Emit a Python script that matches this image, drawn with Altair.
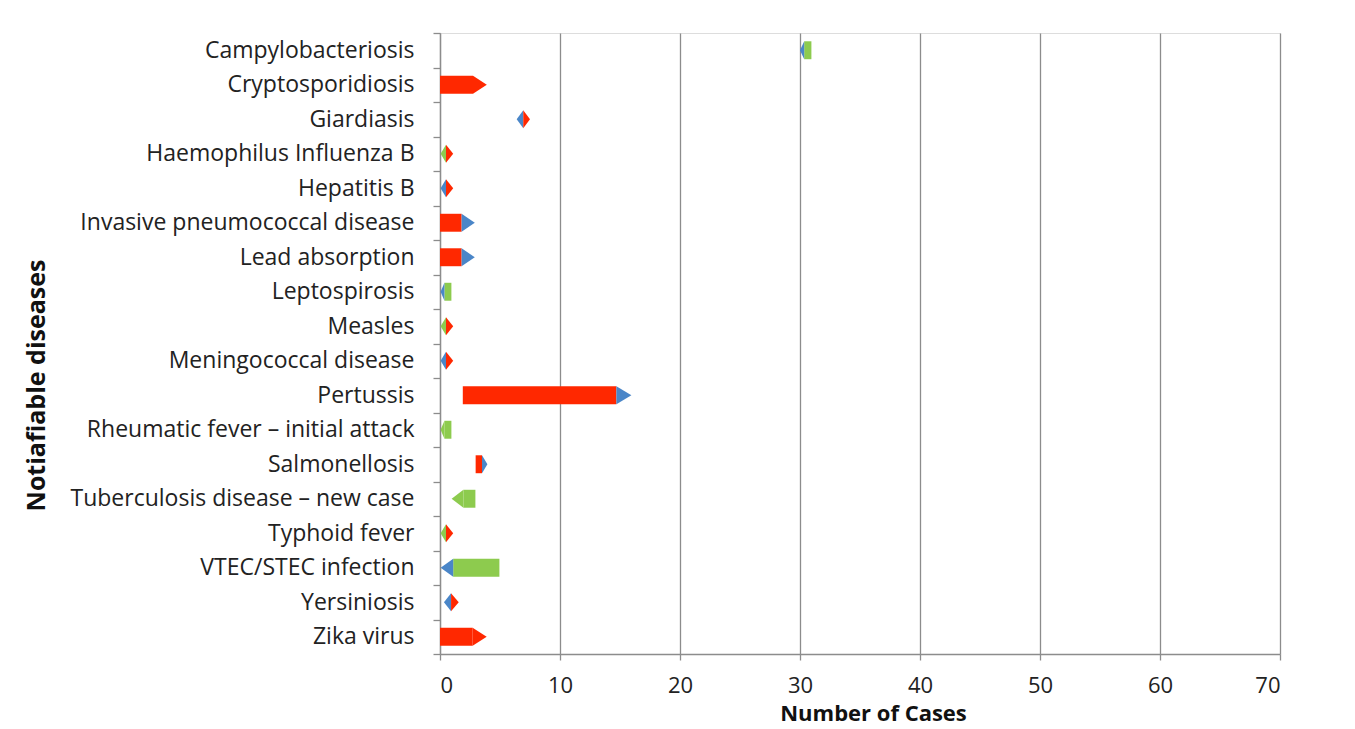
import json
import altair as alt
import pandas as pd

diseases = [
    "Campylobacteriosis", "Cryptosporidiosis", "Giardiasis", "Haemophilus Influenza B",
    "Hepatitis B", "Invasive pneumococcal disease", "Lead absorption", "Leptospirosis",
    "Measles", "Meningococcal disease", "Pertussis", "Rheumatic fever \u2013 initial attack",
    "Salmonellosis", "Tuberculosis disease \u2013 new case", "Typhoid fever",
    "VTEC/STEC infection", "Yersiniosis", "Zika virus",
]

# shaft of each arrow (number of cases)
bar_start = [30.35, 0.0, None, None, None, 0.0, 0.0, 0.37, None, None, 1.9, 0.37, 2.97, 1.95, None, 1.1, None, 0.0]
bar_end = [30.95, 2.75, None, None, None, 1.8, 1.8, 0.95, None, None, 14.7, 0.95, 3.5, 2.95, None, 4.95, None, 2.72]
bar_kind = ["decrease", "increase", None, None, None, "increase", "increase", "decrease", None, None,
            "increase", "decrease", "increase", "decrease", None, "decrease", None, "increase"]

# left-pointing heads
left_base = [30.35, None, 6.94, 0.5, 0.5, None, None, 0.37, 0.5, 0.5, None, 0.37, None, 1.95, 0.5, 1.1, 0.92, None]
left_tip = [30.0, None, 6.39, 0.05, 0.05, None, None, 0.05, 0.05, 0.05, None, 0.05, None, 0.97, 0.05, 0.05, 0.33, None]
left_kind = ["reference", None, "reference", "decrease", "reference", None, None, "reference", "decrease", "reference",
             None, "decrease", None, "decrease", "decrease", "reference", "reference", None]

# right-pointing heads
right_base = [None, 2.75, 6.94, 0.5, 0.5, 1.8, 1.8, None, 0.5, 0.5, 14.7, None, 3.5, None, 0.5, None, 0.92, 2.72]
right_tip = [None, 3.9, 7.5, 1.1, 1.1, 2.9, 2.9, None, 1.1, 1.1, 15.95, None, 3.95, None, 1.1, None, 1.56, 3.89]
right_kind = [None, "increase", "increase", "increase", "increase", "reference", "reference", None, "increase", "increase",
              "reference", None, "reference", None, "increase", None, "increase", "increase"]

x_ticks = [0, 10, 20, 30, 40, 50, 60, 70]

HALF = 0.26  # half thickness of an arrow, in rows

bars = []
for i, (s, e, k) in enumerate(zip(bar_start, bar_end, bar_kind)):
    if s is not None:
        bars.append({"x": s, "x2": e, "y": i - HALF, "y2": i + HALF, "kind": k})
bars_df = pd.DataFrame(bars)

# each head is a two-point vertical area: full thickness at its base, zero at its tip
heads = []
hid = 0
for bases, tips, kinds in ((left_base, left_tip, left_kind), (right_base, right_tip, right_kind)):
    for i, (b, t, k) in enumerate(zip(bases, tips, kinds)):
        if b is None:
            continue
        heads.append({"id": hid, "x": b, "y": i - HALF, "y2": i + HALF, "kind": k})
        heads.append({"id": hid, "x": t, "y": i, "y2": i, "kind": k})
        hid += 1
heads_df = pd.DataFrame(heads)

FONT = "Open Sans"
GRAY = "#8c8c8c"

color = alt.Color(
    "kind:N",
    scale=alt.Scale(domain=["increase", "decrease", "reference"],
                    range=["#FF2800", "#8DCB4E", "#4A86C8"]),
    legend=None,
)

n = len(diseases)
y_values = [i * 0.5 - 0.5 for i in range(2 * n + 1)]
label_expr = "datum.value % 1 == 0 ? " + json.dumps(diseases, ensure_ascii=False) + "[datum.value] : ''"

y_scale = alt.Scale(domain=[-0.5, n - 0.5], reverse=True, nice=False, zero=False)
x_scale = alt.Scale(domain=[0, 70], nice=False)

x_axis = alt.Axis(
    title="Number of Cases", values=x_ticks, grid=True, gridColor=GRAY, gridWidth=1.3,
    domainColor=GRAY, domainWidth=1.3, tickColor=GRAY, tickSize=6, tickWidth=1.3,
    labelFont=FONT, labelFontSize=22, labelColor="#222", labelPadding=15,
    titleFont=FONT, titleFontSize=22, titleFontWeight="bold", titleColor="#111",
    titleX=433, titleY=59, titleBaseline="middle",
)
y_axis = alt.Axis(
    title="Notiafiable diseases", values=y_values, tickCount=len(y_values), labelExpr=label_expr, grid=False,
    domainColor=GRAY, domainWidth=1.3, tickColor=GRAY, tickSize=7, tickWidth=1.3,
    tickOpacity={"condition": {"test": "datum.value % 1 == 0", "value": 0}, "value": 1},
    labelOverlap=False, labelFlush=False, labelBound=False, labelLimit=0,
    labelFont=FONT, labelFontSize=23, labelColor="#222", labelPadding=19,
    titleFont=FONT, titleFontSize=25, titleFontWeight="bold", titleColor="#111",
    titleX=-404, titleY=352, titleBaseline="middle",
)

shafts = alt.Chart(bars_df).mark_rect().encode(
    x=alt.X("x:Q", scale=x_scale, axis=x_axis),
    x2="x2:Q",
    y=alt.Y("y:Q", scale=y_scale, axis=y_axis),
    y2="y2:Q",
    color=color,
)

tips = alt.Chart(heads_df).mark_area(orient="vertical", opacity=1).encode(
    x=alt.X("x:Q", scale=x_scale),
    y=alt.Y("y:Q", scale=y_scale, stack=None),
    y2="y2:Q",
    detail="id:N",
    color=color,
)

chart = alt.layer(shafts, tips).properties(
    width=840, height=621,
    autosize=alt.AutoSizeParams(type="none"),
    padding={"left": 432, "top": 25, "right": 60, "bottom": 75},
).configure_view(stroke=None).configure(background="white")

chart.save("out.html", embed_options={"renderer": "svg", "actions": False})
